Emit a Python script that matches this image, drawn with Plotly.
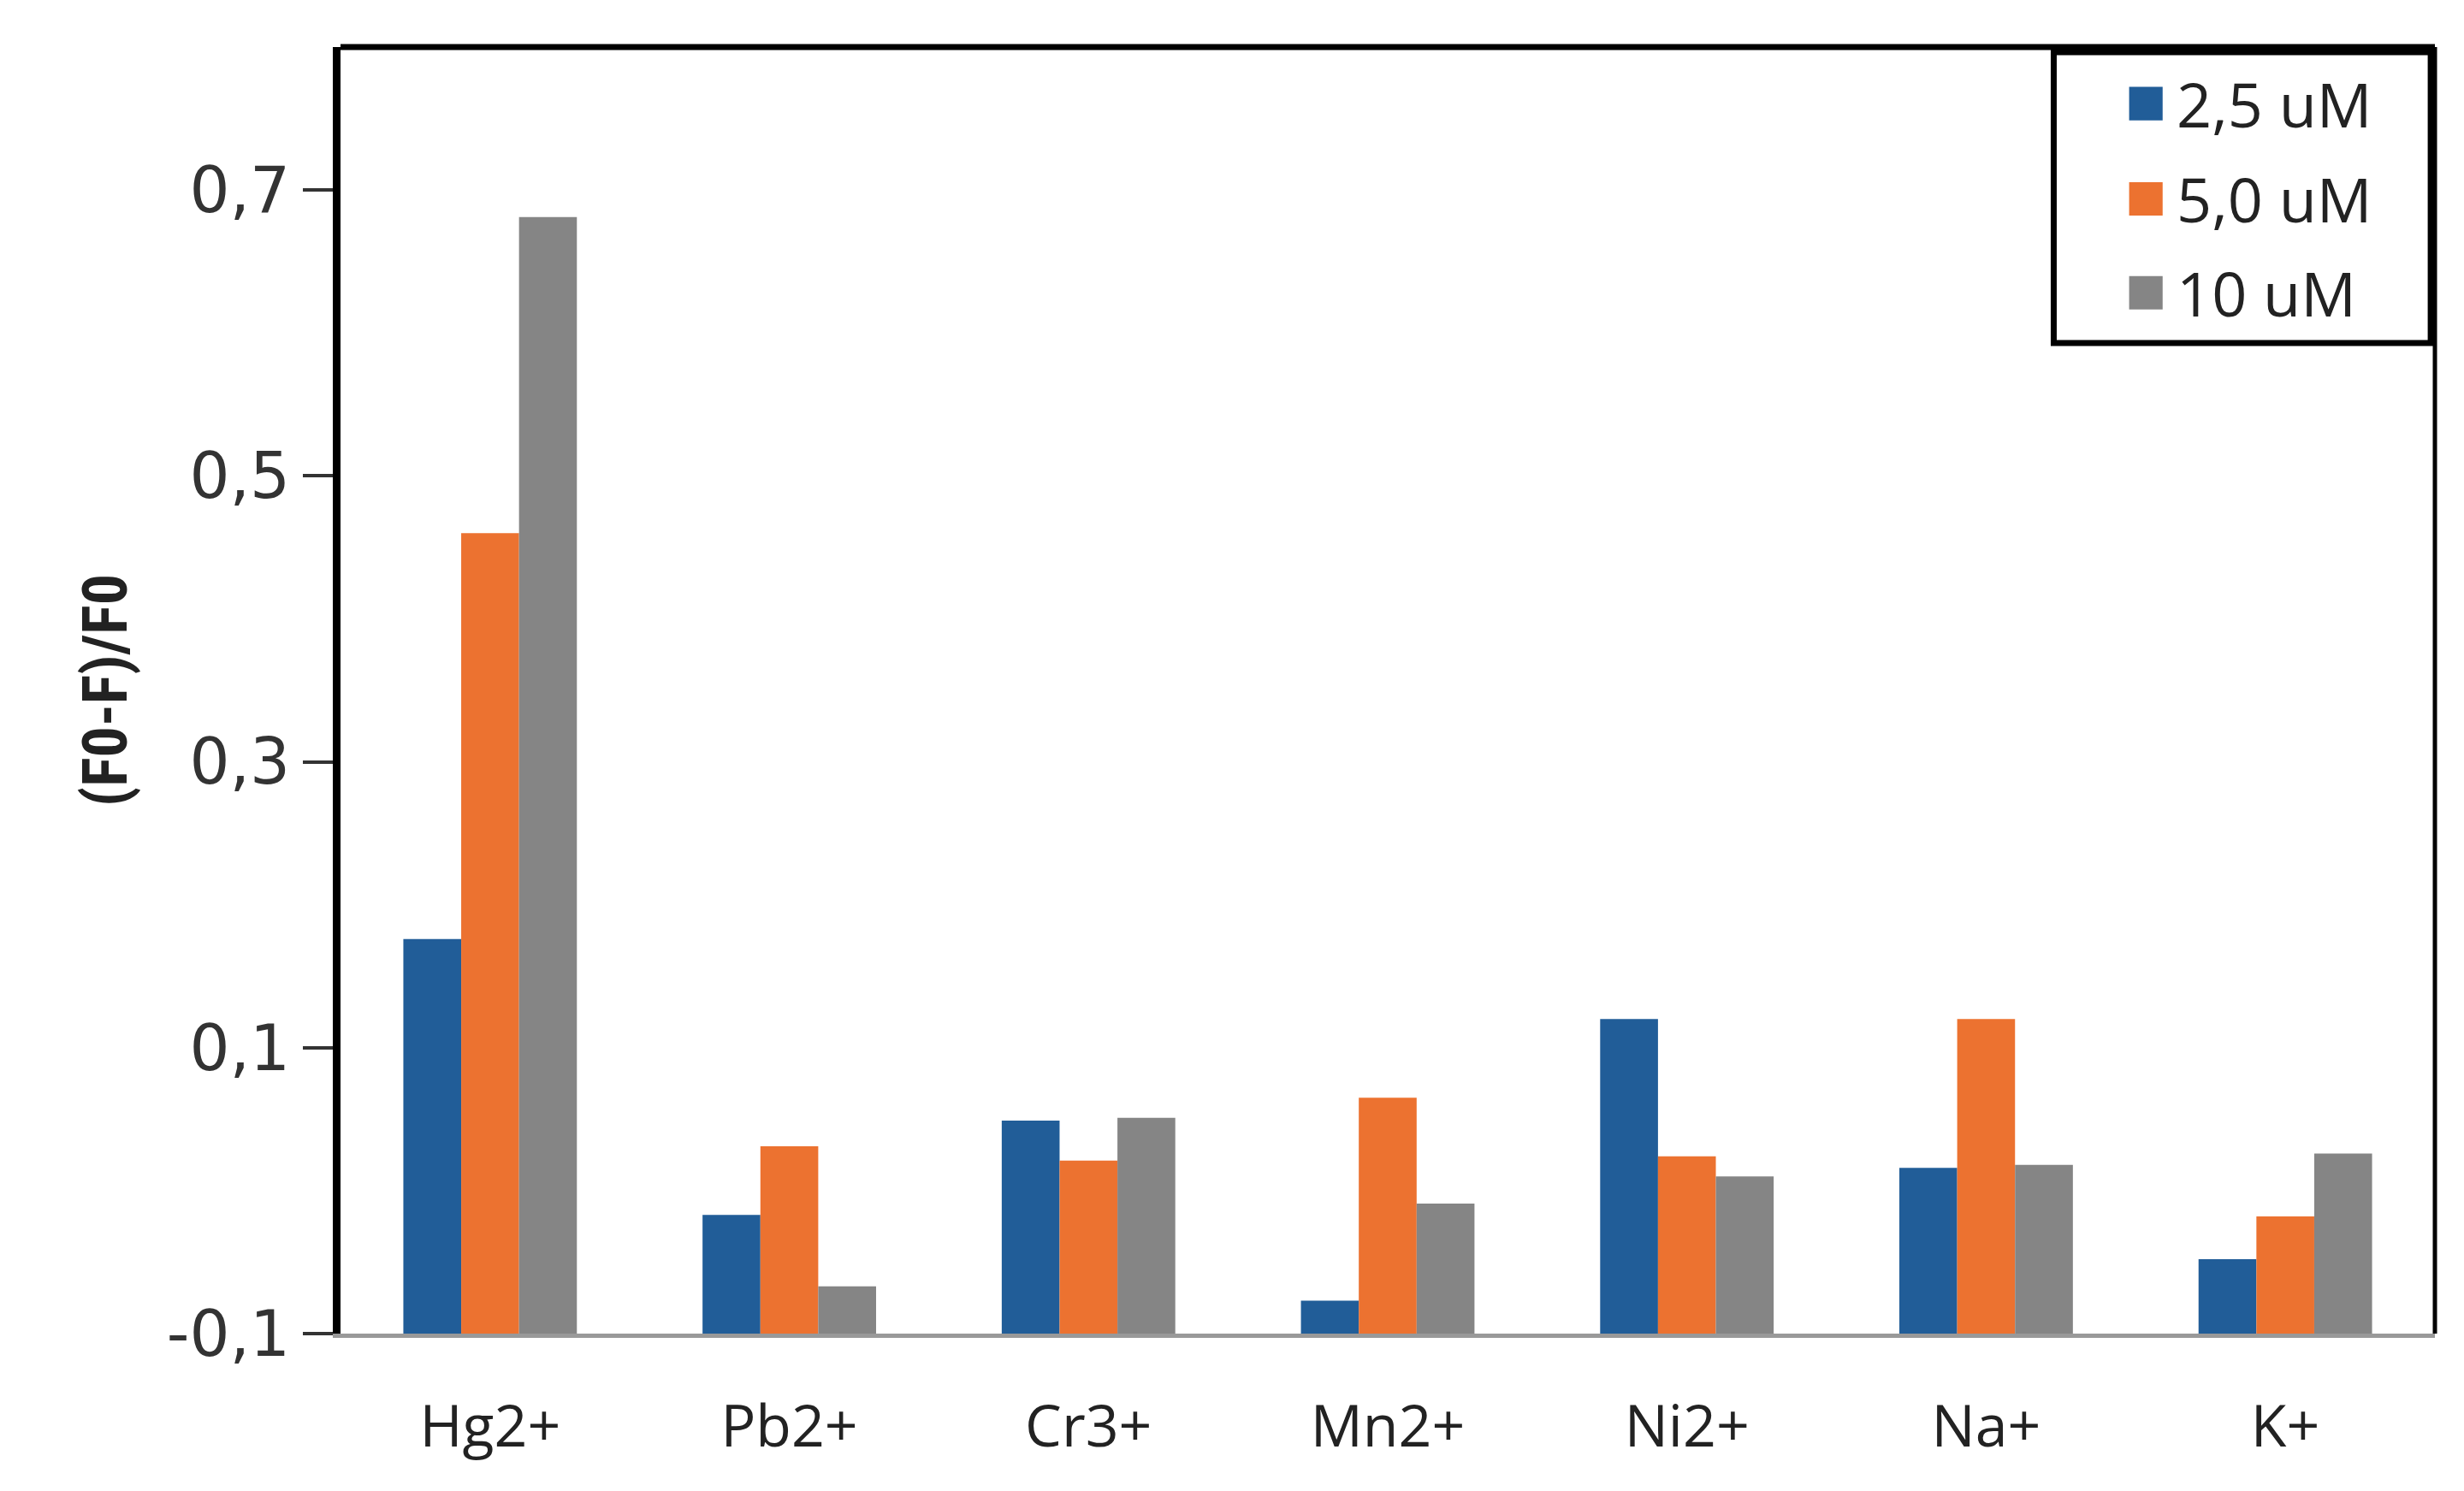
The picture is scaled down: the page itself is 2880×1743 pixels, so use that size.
import plotly.graph_objects as go

categories = ["Hg2+", "Pb2+", "Cr3+", "Mn2+", "Ni2+", "Na+", "K+"]
series_names = ["2,5 uM", "5,0 uM", "10 uM"]
vals_25 = [0.176, -0.017, 0.049, -0.077, 0.120, 0.016, -0.048]
vals_50 = [0.460, 0.031, 0.021, 0.065, 0.024, 0.120, -0.018]
vals_10 = [0.681, -0.067, 0.051, -0.009, 0.010, 0.018, 0.026]
series_values = [vals_25, vals_50, vals_10]
colors = ["#215D98", "#EC7230", "#858585"]
y_ticks = [-0.1, 0.1, 0.3, 0.5, 0.7]
y_tick_text = ["-0,1", "0,1", "0,3", "0,5", "0,7"]
y_min, y_max = -0.1, 0.8

fig = go.Figure()
for name, vals, col in zip(series_names, series_values, colors):
    fig.add_trace(go.Bar(
        x=categories, y=[v - y_min for v in vals], base=y_min,
        name=name, marker=dict(color=col, line=dict(width=0)),
        showlegend=False,
    ))

# custom legend (large swatches like the original)
lg_x0, lg_x1, lg_y0, lg_y1 = 0.818, 0.998, 0.770, 0.996
row_y = [0.956, 0.882, 0.809]
sw_x0, sw_x1, sw_h = 0.854, 0.870, 0.026
fig.add_shape(type="rect", xref="paper", yref="paper",
              x0=lg_x0, x1=lg_x1, y0=lg_y0, y1=lg_y1,
              line=dict(color="black", width=7), fillcolor="white", layer="above")
for name, col, yy in zip(series_names, colors, row_y):
    fig.add_shape(type="rect", xref="paper", yref="paper",
                  x0=sw_x0, x1=sw_x1, y0=yy - sw_h / 2, y1=yy + sw_h / 2,
                  line=dict(width=0), fillcolor=col, layer="above")
    fig.add_annotation(xref="paper", yref="paper", x=0.876, y=yy,
                       xanchor="left", yanchor="middle", text=name, showarrow=False,
                       font=dict(family="Open Sans, DejaVu Sans", size=72, color="#222222"))

# top and right frame lines
fig.add_shape(type="line", xref="paper", yref="paper", x0=0, x1=1, y0=1, y1=1,
              line=dict(color="black", width=7))
fig.add_shape(type="line", xref="paper", yref="paper", x0=1, x1=1, y0=0, y1=1,
              line=dict(color="black", width=5))

fig.update_layout(
    width=2880, height=1743,
    margin=dict(l=390, r=42, t=47, b=192),
    paper_bgcolor="white", plot_bgcolor="white",
    barmode="group", bargap=0.42, bargroupgap=0,
    font=dict(family="DejaVu Sans", color="#222222"),
)
fig.update_yaxes(
    range=[y_min, y_max], tickvals=y_ticks, ticktext=y_tick_text,
    showgrid=False, zeroline=False,
    showline=True, linecolor="black", linewidth=9,
    ticks="outside", ticklen=35, tickwidth=4, tickcolor="#333333",
    tickfont=dict(family="DejaVu Sans", size=74, color="#333333"),
    title=dict(text="<b>(F0-F)/F0</b>", standoff=26,
               font=dict(family="Liberation Sans Narrow, Roboto Condensed, Liberation Sans", size=72, color="#222222")),
)
fig.update_xaxes(
    showgrid=False, zeroline=False,
    showline=True, linecolor="#999999", linewidth=5,
    ticks="outside", ticklen=45, tickcolor="rgba(0,0,0,0)",
    tickfont=dict(family="Open Sans, DejaVu Sans", size=68, color="#222222"),
)

fig.write_html("out.html")
